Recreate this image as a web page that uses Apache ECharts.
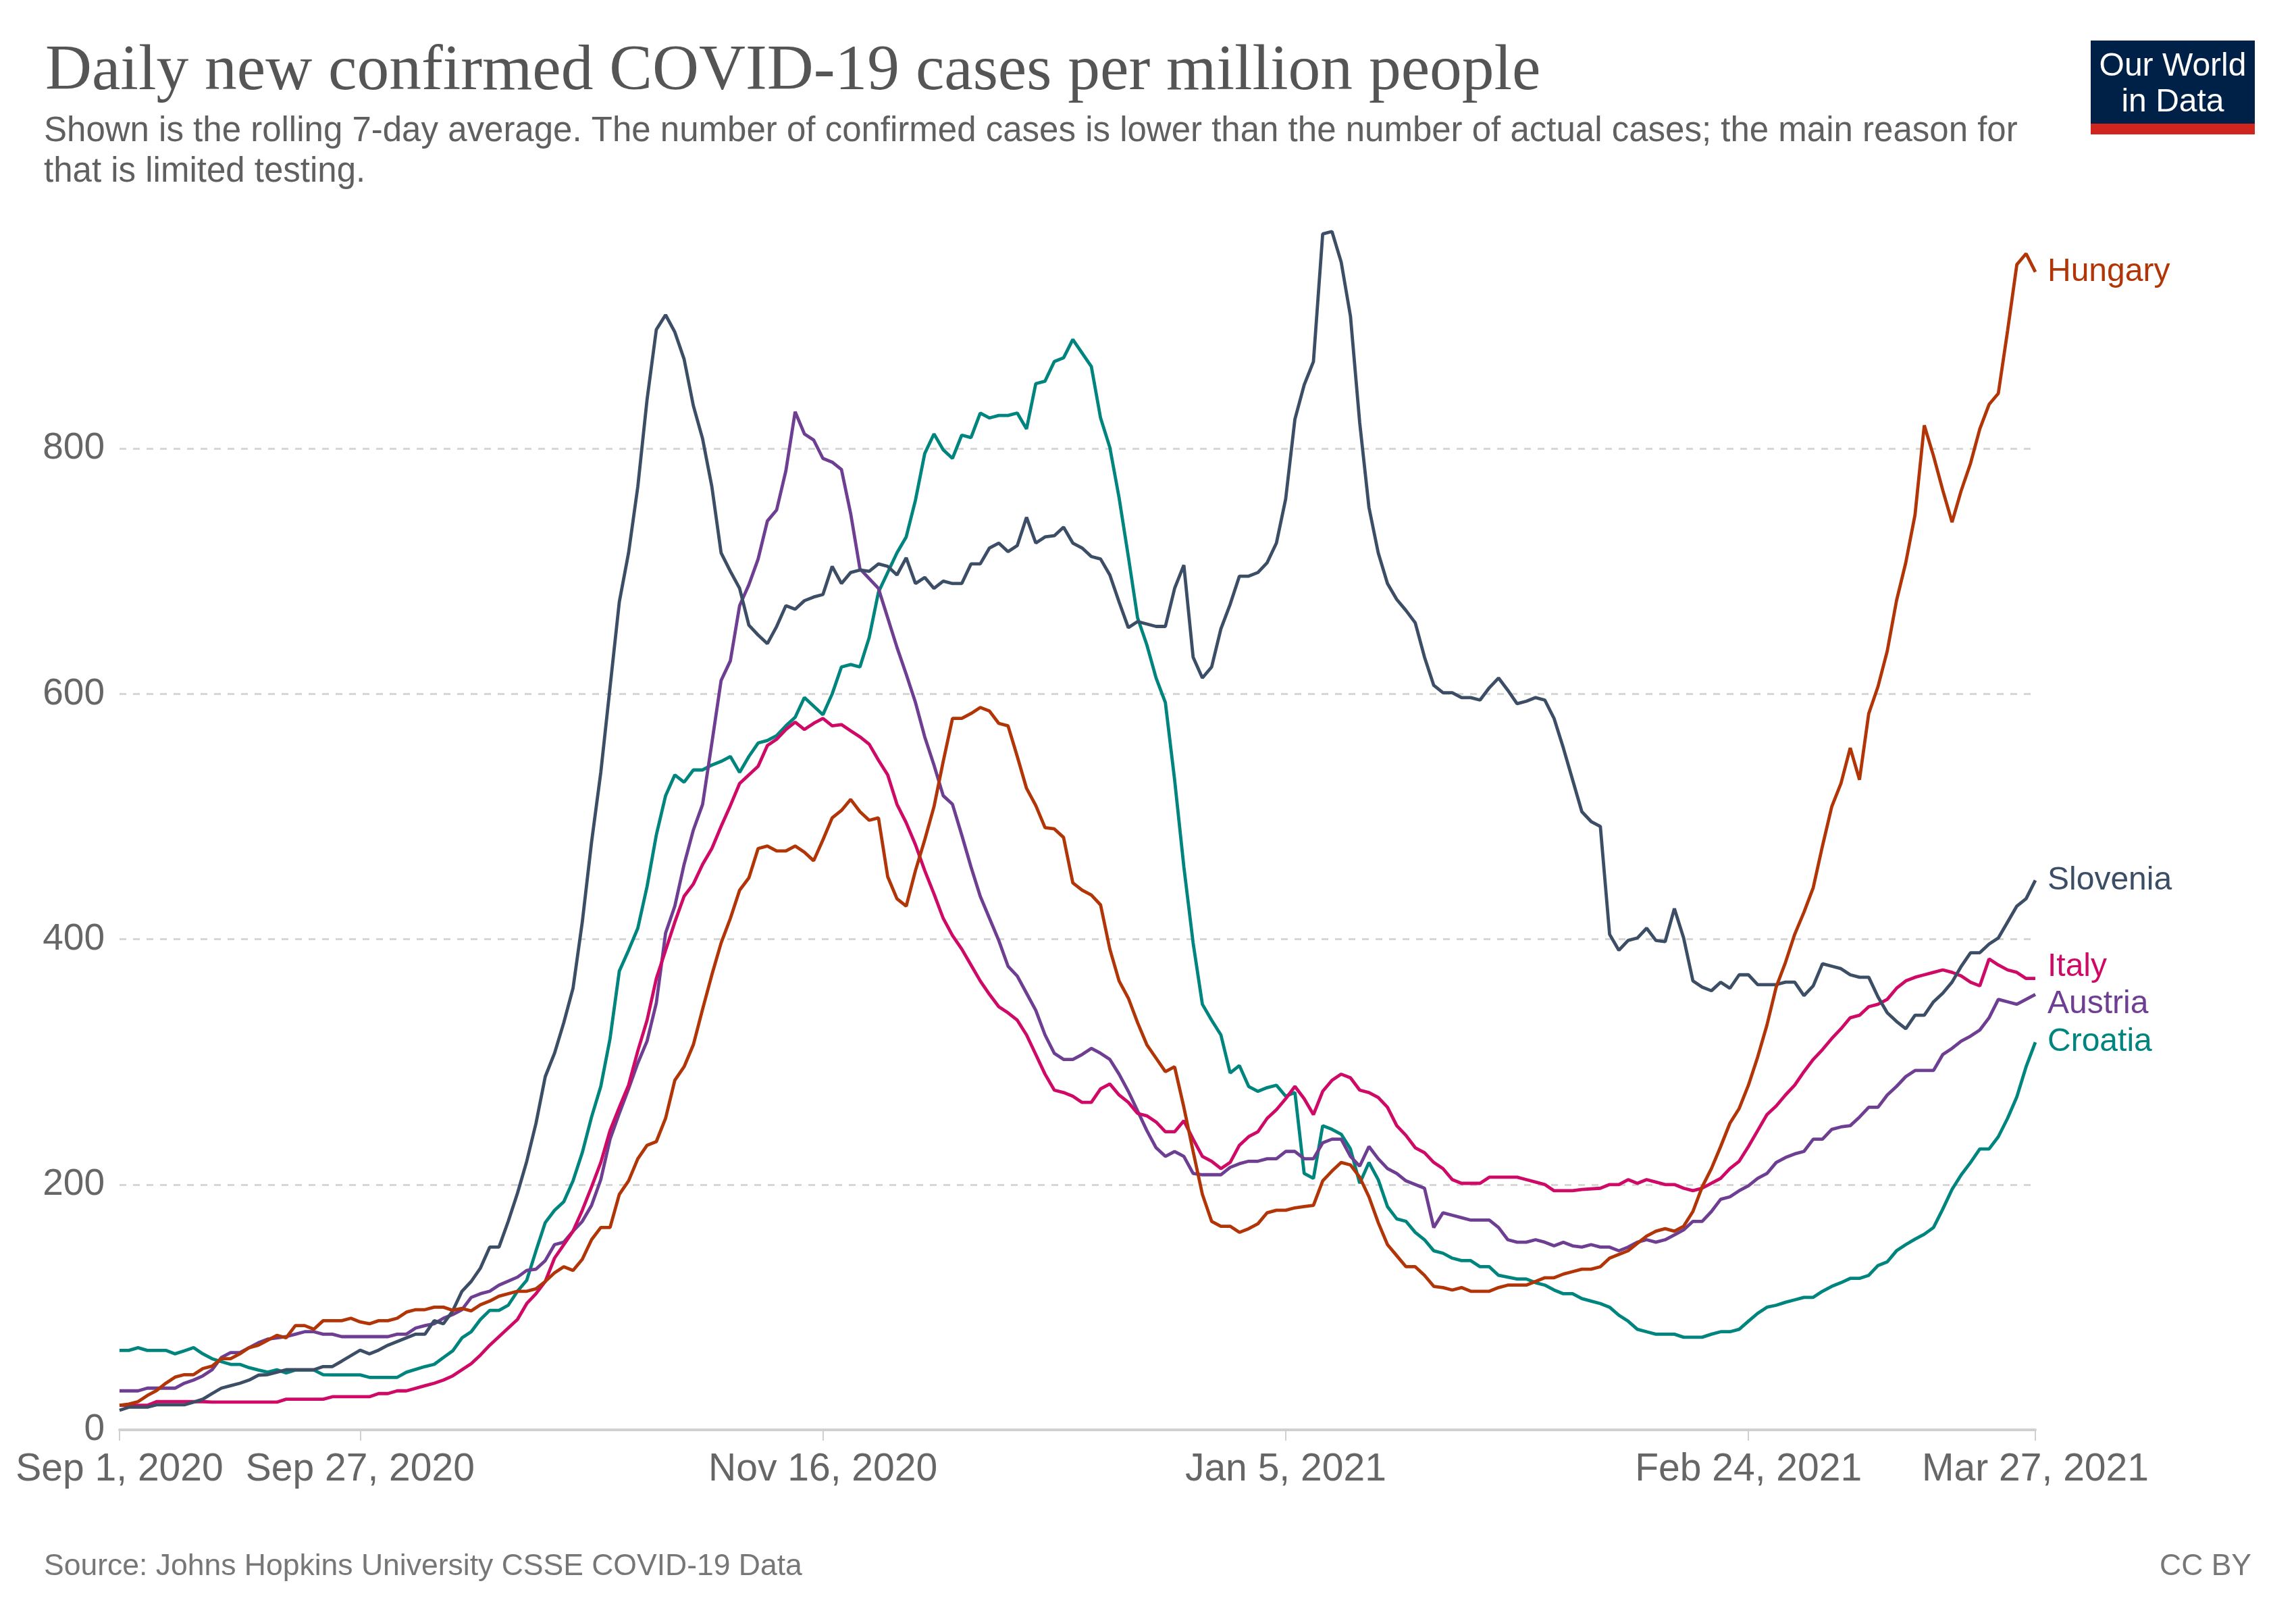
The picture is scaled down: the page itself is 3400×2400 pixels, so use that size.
<!DOCTYPE html>
<html>
<head>
<meta charset="utf-8">
<script src="https://cdn.jsdelivr.net/npm/echarts@6/dist/echarts.min.js"></script>
<style>
html,body{margin:0;padding:0;background:#ffffff;}
#chart{width:3400px;height:2400px;}
</style>
</head>
<body>
<div id="chart"></div>
<script>
// x values are day offsets from Sep 1, 2020
const tickDays = [0, 26, 76, 126, 176, 207];
const tickLabels = ['Sep 1, 2020', 'Sep 27, 2020', 'Nov 16, 2020', 'Jan 5, 2021', 'Feb 24, 2021', 'Mar 27, 2021'];
const yTicks = [0, 200, 400, 600, 800];

const hungary = [[0,20],[1,21],[2,23],[3,28],[4,32],[5,38],[6,43],[7,45],[8,45],[9,50],[10,52],[11,58],[12,58],[13,62],[14,67],[15,69],[16,73],[17,77],[18,75],[19,85],[20,85],[21,82],[22,89],[24,89],[25,91],[26,88],[27,86.5],[28,89],[29,89],[30,91],[31,96],[32,98],[33,98],[34,100],[35,100],[36,97.5],[37,99],[38,97],[39,102],[40,105],[41,109],[43,113],[44,113],[45,115],[46,121],[47,128],[48,133],[49,130],[50,139],[51,155],[52,165],[53,165],[54,192],[55,203],[56,221],[57,232],[58,235],[59,254],[60,285],[61,296],[62,314],[63,343],[64,371],[65,397],[66,417],[67,440],[68,450],[69,474],[70,476],[71,472],[72,472],[73,476],[74,471],[75,464],[76,481],[77,499],[78,505],[79,514],[80,504],[81,497],[82,499],[83,451],[84,433],[85,427],[86,456],[87,481],[88,508],[89,545],[90,580],[91,580],[92,584],[93,589],[94,586],[95,576],[96,574],[97,549],[98,523],[99,509],[100,491],[101,490],[102,483],[103,446],[104,440],[105,436],[106,428],[107,392],[108,366],[109,352],[110,332],[111,314],[112,303],[113,292],[114,296],[115,263],[116,227],[117,192],[118,170],[119,166],[120,166],[121,161],[122,164],[123,168],[124,177],[125,179],[126,179],[127,181],[128,182],[129,183],[130,203],[131,211],[132,218],[133,216],[134,206],[135,190],[136,169],[137,151],[138,142],[139,133],[140,133],[141,126],[142,117],[143,116],[144,114],[145,116],[146,113],[148,113],[149,116],[150,118],[152,118],[153,121],[154,124],[155,124],[156,127],[157,129],[158,131],[159,131],[160,133],[161,140],[162,143],[163,146],[164,152],[165,158],[166,162],[167,164],[168,162],[169,166],[170,178],[171,198],[172,213],[173,231],[174,250],[175,262],[176,281],[177,304],[178,330],[179,361],[180,381],[181,404],[182,422],[183,442],[184,476],[185,508],[186,527],[187,556],[188,530],[189,584],[190,606],[191,635],[192,676],[193,707],[194,746],[195,819],[196,794],[197,766],[198,740],[199,766],[200,788],[201,816],[202,836],[203,845],[204,896],[205,950],[206,959],[207,944]];

const slovenia = [[0,16],[1,18.5],[3,18.5],[4,20.4],[7,20.4],[8,22.6],[9,25],[10,29.6],[11,34],[12,36],[13,38],[14,40.6],[15,44.6],[16,45],[17,47],[18,49],[21,49],[22,51.6],[23,51.6],[24,56],[26,65],[27,62],[28,65],[29,69],[30,72],[31,75],[32,78],[33,78],[34,89],[35,86.5],[36,97],[37,113],[38,121],[39,132],[40,149],[41,149],[42,170],[43,193],[44,219],[45,250],[46,288],[47,307],[48,332],[49,360],[50,414],[51,479],[52,536],[54,675],[55,715],[56,769],[57,840],[58,897],[59,909],[60,895],[61,873],[62,835],[63,808],[64,769],[65,715],[66,700],[67,686],[68,656],[69,648],[70,641],[71,655],[72,672],[73,669],[74,676],[75,679],[76,681],[77,704],[78,690],[79,699],[80,701],[81,700],[82,706],[83,704],[84,697],[85,711],[86,690],[87,695],[88,686],[89,692],[90,690],[91,690],[92,706],[93,706],[94,719],[95,723],[96,716],[97,721],[98,744],[99,723],[100,728],[101,729],[102,736],[103,723],[104,719],[105,712],[106,710],[107,697],[108,675],[109,654],[110,659],[112,655],[113,655],[114,686],[115,705],[116,630],[117,613],[118,622],[119,653],[120,673],[121,696],[122,696],[123,699],[124,707],[125,723],[126,759],[127,824],[128,852],[129,871],[130,975],[131,977],[132,952],[133,908],[134,821],[135,752],[136,715],[137,690],[138,677],[139,668],[140,658],[141,630],[142,607],[143,601],[144,601],[145,597],[146,597],[147,595],[148,605],[149,613],[150,603],[151,592],[152,594],[153,597],[154,595],[155,580],[156,556],[157,530],[158,504],[159,496],[160,492],[161,404],[162,391],[163,399],[164,401],[165,409],[166,399],[167,398],[168,425],[169,401],[170,366],[171,361],[172,358],[173,365],[174,360],[175,371],[176,371],[177,363],[179,363],[180,365],[181,365],[182,354],[183,362],[184,380],[185,378],[186,376],[187,371],[188,369],[189,369],[190,353],[191,340],[192,333],[193,327],[194,338],[195,338],[196,349],[197,356],[198,365],[199,378],[200,389],[201,389],[202,396],[203,401],[204,414],[205,427],[206,433],[207,448]];

const italy = [[0,20],[3,20],[4,23],[9,23],[10,22.6],[17,22.6],[18,25],[22,25],[23,27],[27,27],[28,29.6],[29,29.6],[30,31.8],[31,31.8],[33,36],[34,38],[35,40.6],[36,44],[37,49],[38,54],[39,61],[40,69],[41,76],[42,83],[43,90],[44,103],[45,111],[46,121],[47,140],[48,151],[49,162],[50,179],[51,198],[52,218],[53,244],[54,263],[55,281],[56,309],[57,334],[58,368],[59,391],[60,414],[61,435],[62,445],[63,461],[64,474],[65,492],[66,509],[67,527],[68,534],[69,541],[70,558],[71,563],[72,571],[73,577],[74,571],[75,576],[76,580],[77,574],[78,575],[79,570],[80,565],[81,559],[82,546],[83,534],[84,510],[85,495],[86,477],[87,456],[88,437],[89,417],[90,403],[91,392],[92,379],[93,366],[94,355],[95,345],[96,340],[97,334],[98,322],[99,306],[100,290],[101,277],[102,275],[103,272],[104,267],[105,267],[106,278],[107,282],[108,273],[109,267],[110,258],[111,256],[112,251],[113,243],[114,243],[115,252],[116,237],[117,223],[118,219],[119,213],[120,218],[121,232],[122,239],[123,243],[124,254],[125,261],[126,270],[127,280],[128,270],[129,257],[130,276],[131,285],[132,290],[133,287],[134,277],[135,275],[136,271],[137,263],[138,248],[139,240],[140,230],[141,226],[142,218],[143,213],[144,204],[145,201],[147,201],[148,206],[151,206],[152,204],[153,202],[154,200],[155,195],[157,195],[158,196],[160,197],[161,200],[162,200],[163,204],[164,201],[165,204],[166,202],[167,200],[168,200],[169,197],[170,195],[171,197],[172,201],[173,205],[174,213],[175,219],[176,231],[177,244],[178,257],[179,264],[180,273],[181,281],[182,292],[183,302],[184,310],[185,319],[186,327],[187,336],[188,338],[189,345],[190,347],[191,351],[192,360],[193,366],[194,369],[195,371],[196,373],[197,375],[198,373],[199,370],[200,365],[201,362],[202,384],[203,379],[204,375],[205,373],[206,368],[207,368]];

const austria = [[0,31.8],[2,31.8],[3,34],[6,34],[7,38],[8,40.6],[9,44],[10,49],[11,59],[12,63],[13,63],[14,67],[15,71],[16,74],[17,75],[18,76],[19,78],[20,80],[21,80],[22,78],[23,78],[24,76],[29,76],[30,78],[31,78],[32,83],[33,85],[34,86.5],[35,91],[36,94],[37,98],[38,108],[39,111],[40,113],[41,118],[43,124.5],[44,130],[45,131],[46,138],[47,151],[48,153],[49,162],[50,170],[51,183],[52,204],[53,237],[54,258],[55,278],[56,299],[57,317],[58,348],[59,405],[60,427],[61,461],[62,489],[63,510],[64,560],[65,611],[66,627],[67,672],[68,689],[69,710],[70,741],[71,750],[72,782],[73,830],[74,812],[75,807],[76,792],[77,789],[78,783],[79,747],[80,702],[81,694],[82,686],[83,662],[84,638],[85,616],[86,593],[87,565],[88,542],[89,517],[90,510],[91,485],[92,459],[93,435],[94,417],[95,399],[96,378],[97,370],[98,356],[99,342],[100,322],[101,307],[102,302],[103,302],[104,306],[105,311],[106,307],[107,302],[108,290],[109,276],[110,260],[111,244],[112,230],[113,223],[114,227],[115,223],[116,209],[117,208],[119,208],[120,214],[121,217],[122,219],[123,219],[124,221],[125,221],[126,227],[127,227],[128,221],[129,221],[130,234],[131,237],[132,237],[133,223],[134,215],[135,231],[136,221],[137,213],[138,209],[139,203],[140,200],[141,197],[142,165],[143,177],[144,175],[145,173],[146,171],[148,171],[149,165],[150,155],[151,153],[152,153],[153,155],[154,153],[155,150],[156,153],[157,150],[158,149],[159,151],[160,149],[161,149],[162,146],[163,149],[164,153],[165,155],[166,153],[167,155],[168,159],[169,163],[170,170],[171,170],[172,178],[173,188],[174,190],[175,195],[176,199],[177,205],[178,209],[179,218],[180,222],[181,225],[182,227],[183,237],[184,237],[185,245],[186,247],[187,248],[188,255],[189,263],[190,263],[191,273],[192,280],[193,288],[194,293],[196,293],[197,306],[198,311],[199,317],[200,321],[201,326],[202,336],[203,351],[204,349],[205,347],[206,351],[207,355]];

const croatia = [[0,64.8],[1,64.8],[2,67],[3,64.8],[5,64.8],[6,62],[7,64.4],[8,67],[9,62],[10,58],[11,55.6],[12,53.4],[13,53.4],[14,50.7],[15,48.8],[16,47],[17,49],[18,46.4],[19,48.8],[21,48.8],[22,45],[23,44.8],[26,44.8],[27,42.8],[30,42.8],[31,47],[33,51.6],[34,53.4],[35,59],[36,64.4],[37,75],[38,80],[39,90],[40,97.4],[41,97.4],[42,101.6],[43,113],[44,122],[45,146],[46,169],[47,179],[48,186],[49,203],[50,226],[51,255],[52,280],[53,319],[54,374],[55,391],[56,409],[57,443],[58,485],[59,517],[60,534],[61,528],[62,538],[63,538],[64,542],[65,545],[66,549],[67,536],[68,549],[69,560],[70,562],[71,566],[72,574],[73,581],[74,597],[76,583],[77,600],[78,622],[79,624],[80,622],[81,646],[82,683],[84,715],[85,728],[86,758],[87,796],[88,812],[89,799],[90,792],[91,811],[92,809],[93,829],[94,825],[95,827],[96,827],[97,829],[98,816],[99,853],[100,855],[101,871],[102,874],[103,889],[104,878],[105,867],[106,825],[107,801],[108,760],[109,712],[110,662],[111,640],[112,613],[113,593],[114,530],[115,459],[116,397],[117,347],[118,334],[119,322],[120,291],[121,297],[122,280],[123,276],[124,279],[125,281],[126,272],[127,275],[128,209],[129,205],[130,248],[131,245],[132,241],[133,229],[134,201],[135,218],[136,204],[137,182],[138,172],[139,170],[140,161],[141,155],[142,146],[143,144],[144,140],[145,138],[146,138],[147,133],[148,133],[149,126],[150,124.5],[151,123],[152,123],[153,120],[154,118],[155,114],[156,111],[157,111],[158,107],[159,105],[160,103],[161,100],[162,93.5],[163,88.6],[164,82],[165,80],[166,78],[168,78],[169,75.5],[171,75.5],[172,78],[173,80],[174,80],[175,82],[176,88.6],[177,95],[178,100],[179,101.6],[180,104],[181,106],[182,108],[183,108],[184,113],[185,117],[186,120],[187,123.5],[188,123.5],[189,126],[190,134],[191,137],[192,146],[193,151],[194,155.5],[195,159.5],[196,165],[197,180],[198,196],[199,208],[200,218],[201,229],[202,229],[203,239],[204,254],[205,271.5],[206,296],[207,316]];

const seriesNames = ['Croatia', 'Austria', 'Italy', 'Slovenia', 'Hungary'];
const seriesData = [croatia, austria, italy, slovenia, hungary];
const seriesColors = ['#00847e', '#6d3e91', '#cf0a66', '#3c4e66', '#b13507'];
const labelShift = [0, 14, -17, 0, 0];

const SANS = '"Liberation Sans", Arial, sans-serif';

const chart = echarts.init(document.getElementById('chart'), null, {renderer: 'canvas', width: 3400, height: 2400});

const series = seriesNames.map((name, i) => ({
  name: name,
  type: 'line',
  data: seriesData[i],
  showSymbol: false,
  symbol: 'none',
  smooth: false,
  lineStyle: {color: seriesColors[i], width: 4.8},
  itemStyle: {color: seriesColors[i]},
  emphasis: {disabled: true},
  z: 2 + i,
  endLabel: {
    show: true,
    formatter: p => p.seriesName,
    color: seriesColors[i],
    fontFamily: SANS,
    fontSize: 48,
    distance: 18,
    offset: [0, labelShift[i]]
  }
}));

const option = {
  animation: false,
  backgroundColor: '#ffffff',
  title: [
    {
      text: 'Daily new confirmed COVID-19 cases per million people',
      left: 62, top: 54,
      textStyle: {fontFamily: 'Liberation Serif', fontSize: 95.5, lineHeight: 95, fontWeight: 'normal', color: '#555555'}
    },
    {
      text: 'Shown is the rolling 7-day average. The number of confirmed cases is lower than the number of actual cases; the main reason for\nthat is limited testing.',
      left: 60, top: 160,
      textStyle: {fontFamily: SANS, fontSize: 51, lineHeight: 60, fontWeight: 'normal', color: '#606060'}
    },
    {
      text: 'Source: Johns Hopkins University CSSE COVID-19 Data',
      left: 60, top: 2295,
      textStyle: {fontFamily: SANS, fontSize: 44.5, lineHeight: 40, fontWeight: 'normal', color: '#777777'}
    },
    {
      text: 'CC BY',
      right: 61, top: 2295,
      textStyle: {fontFamily: SANS, fontSize: 44.5, lineHeight: 40, fontWeight: 'normal', color: '#777777'}
    }
  ],
  graphic: [
    {type: 'rect', shape: {x: 3096, y: 60, width: 243, height: 123}, style: {fill: '#002147'}},
    {type: 'rect', shape: {x: 3096, y: 183, width: 243, height: 16}, style: {fill: '#ce261e'}},
    {
      type: 'group', left: 3096, top: 60, width: 243, height: 123, bounding: 'raw',
      children: [
        {type: 'text', left: 'center', top: 15, style: {text: 'Our World', fill: '#ffffff', font: '48px "Liberation Sans", Arial, sans-serif'}},
        {type: 'text', left: 'center', top: 68, style: {text: 'in Data', fill: '#ffffff', font: '48px "Liberation Sans", Arial, sans-serif'}}
      ]
    }
  ],
  grid: {left: 177, right: 386, top: 301, bottom: 283, containLabel: false, outerBoundsMode: 'none'},
  xAxis: {
    type: 'value', min: 0, max: 207,
    splitLine: {show: false},
    axisLine: {show: true, onZero: true, lineStyle: {color: '#d0d0d0', width: 4}},
    axisTick: {show: true, customValues: tickDays, length: 16, lineStyle: {color: '#d0d0d0', width: 2}},
    axisLabel: {
      customValues: tickDays,
      formatter: v => { const k = tickDays.indexOf(Math.round(v)); return k >= 0 ? tickLabels[k] : ''; },
      fontFamily: SANS, fontSize: 57, color: '#666666', margin: 31,
      showMinLabel: true, showMaxLabel: true, hideOverlap: false
    }
  },
  yAxis: {
    type: 'value', min: 0, max: 1000, interval: 200,
    axisLine: {show: false},
    axisTick: {show: false},
    axisLabel: {
      customValues: yTicks,
      fontFamily: SANS, fontSize: 55, color: '#666666', margin: 22
    },
    splitLine: {show: true, showMinLine: false, showMaxLine: false, lineStyle: {color: '#d6d6d6', width: 3, type: [10, 10]}}
  },
  series: series
};

chart.setOption(option);
</script>
</body>
</html>
